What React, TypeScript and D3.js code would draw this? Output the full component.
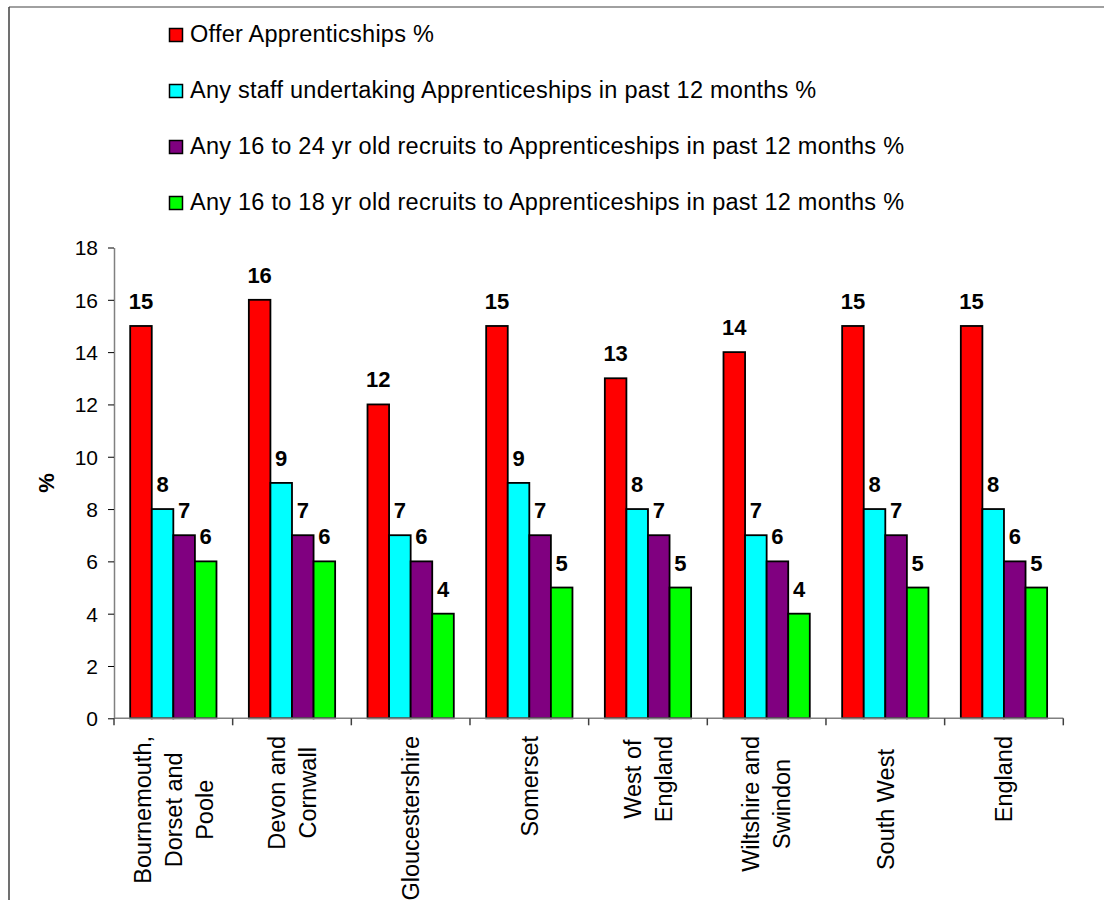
import React, { useEffect, useRef } from "react";
import * as d3 from "d3";

const categories = [
  "Bournemouth,\nDorset and\nPoole",
  "Devon and\nCornwall",
  "Gloucestershire",
  "Somerset",
  "West of\nEngland",
  "Wiltshire and\nSwindon",
  "South West  ",
  "England",
];
const seriesNames = [
  "Offer Apprenticships %",
  "Any staff undertaking Apprenticeships in past 12 months %",
  "Any 16 to 24 yr old recruits to Apprenticeships in past 12 months %",
  "Any 16 to 18 yr old recruits to Apprenticeships in past 12 months %",
];
const offerValues = [15, 16, 12, 15, 13, 14, 15, 15];
const staffValues = [8, 9, 7, 9, 8, 7, 8, 8];
const recruits1624Values = [7, 7, 6, 7, 7, 6, 7, 6];
const recruits1618Values = [6, 6, 4, 5, 5, 4, 5, 5];
const seriesColors = ["#FF0000", "#00FFFF", "#800080", "#00FF00"];
const yTicks = [0, 2, 4, 6, 8, 10, 12, 14, 16, 18];

const FONT = "'Liberation Sans', Arial, Helvetica, sans-serif";

export default function App() {
  const ref = useRef<SVGSVGElement | null>(null);

  useEffect(() => {
    const svg = d3.select(ref.current);
    svg.selectAll("*").remove();

    const values = [offerValues, staffValues, recruits1624Values, recruits1618Values];
    const left = 114, right = 1063.3, top = 247.5, bottom = 718.3;

    const y = d3.scaleLinear().domain([0, 18]).range([bottom, top]);
    const x0 = d3.scaleBand<string>().domain(categories).range([left, right]).paddingInner(0).paddingOuter(0);
    const bw = x0.bandwidth() / 5.5;
    const x1 = d3
      .scaleBand<string>()
      .domain(seriesNames)
      .range([bw * 0.75, x0.bandwidth() - bw * 0.75])
      .padding(0);

    // frame
    svg.append("line").attr("x1", 9).attr("x2", 1104).attr("y1", 7).attr("y2", 7)
      .attr("stroke", "#808080").attr("stroke-width", 1.5);
    svg.append("line").attr("x1", 9).attr("x2", 9).attr("y1", 7).attr("y2", 900)
      .attr("stroke", "#404040").attr("stroke-width", 1.5);

    // legend
    const lg = svg.append("g");
    seriesNames.forEach((name, i) => {
      const cy = 35.5 + i * 56;
      lg.append("rect").attr("x", 169.5).attr("y", cy - 7).attr("width", 13).attr("height", 13)
        .attr("fill", seriesColors[i]).attr("stroke", "#000").attr("stroke-width", 1.5);
      lg.append("text").attr("x", 190).attr("y", cy + 6.5).text(name)
        .attr("font-family", FONT).attr("font-size", 23.5).attr("letter-spacing", 0.25).attr("fill", "#000");
    });

    // bars
    const groups = svg.append("g");
    categories.forEach((cat, ci) => {
      seriesNames.forEach((s, si) => {
        const v = values[si][ci];
        const bx = (x0(cat) as number) + (x1(s) as number);
        groups.append("rect")
          .attr("x", bx).attr("y", y(v))
          .attr("width", x1.bandwidth()).attr("height", y(0) - y(v))
          .attr("fill", seriesColors[si]).attr("stroke", "#000").attr("stroke-width", 1.8);
        groups.append("text")
          .attr("x", bx + x1.bandwidth() / 2).attr("y", y(v) - 17)
          .attr("text-anchor", "middle")
          .attr("font-family", FONT).attr("font-size", 22).attr("font-weight", "bold")
          .text(String(v));
      });
    });

    // y axis
    const ya = svg.append("g").attr("transform", `translate(${left},0)`)
      .call(d3.axisLeft(y).tickValues(yTicks).tickSize(6).tickSizeOuter(0).tickPadding(10));
    ya.select(".domain").attr("stroke", "#808080").attr("stroke-width", 1.5);
    ya.selectAll(".tick line").attr("stroke", "#000").attr("stroke-width", 1);
    ya.selectAll(".tick text").attr("font-family", FONT).attr("font-size", 21).attr("fill", "#000")
      .attr("dy", "0.35em");

    // x axis
    const xa = svg.append("g").attr("transform", `translate(0,${bottom})`);
    xa.append("line").attr("x1", left).attr("x2", right).attr("y1", 0).attr("y2", 0)
      .attr("stroke", "#808080").attr("stroke-width", 1.5);
    const edges = [...categories.map((c) => x0(c) as number), right];
    edges.forEach((ex) => {
      xa.append("line").attr("x1", ex).attr("x2", ex).attr("y1", 0).attr("y2", 7)
        .attr("stroke", "#404040").attr("stroke-width", 1.5);
    });

    // category labels
    const lineGap = 31;
    categories.forEach((cat) => {
      const lines = cat.split("\n");
      const cx = (x0(cat) as number) + x0.bandwidth() / 2;
      const texts = lines.map((ln, i) =>
        svg.append("text").text(ln)
          .attr("font-family", FONT).attr("font-size", 23.5).attr("fill", "#000")
          .attr("text-anchor", "middle")
          .style("white-space", "pre")
          .attr("xml:space", "preserve")
          .datum(i)
      );
      const maxW = d3.max(texts, (t) => (t.node() as SVGTextElement).getComputedTextLength()) || 0;
      const yc = 736 + maxW / 2;
      texts.forEach((t, i) => {
        const bx = cx + (i - (lines.length - 1) / 2) * lineGap + 8.3;
        t.attr("transform", `translate(${bx},${yc}) rotate(-90)`);
      });
    });

    // y title
    svg.append("text").text("%")
      .attr("transform", `translate(${54},${(top + bottom) / 2}) rotate(-90)`)
      .attr("text-anchor", "middle")
      .attr("font-family", FONT).attr("font-size", 22).attr("font-weight", "bold");
  }, []);

  return (
    <svg
      ref={ref}
      width={1104}
      height={900}
      style={{ position: "absolute", left: 0, top: 0, background: "#fff" }}
    />
  );
}
